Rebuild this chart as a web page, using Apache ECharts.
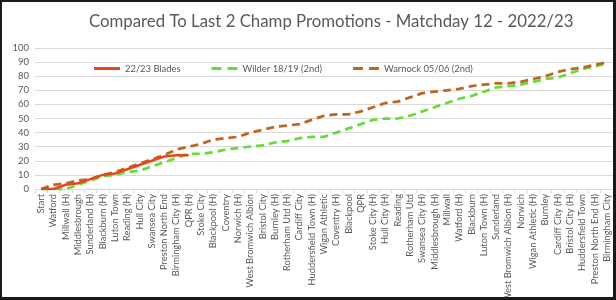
<!DOCTYPE html>
<html><head><meta charset="utf-8">
<script src="https://cdn.jsdelivr.net/npm/echarts@6/dist/echarts.min.js"></script>
<style>
html,body{margin:0;padding:0;background:#fff;}
#c{width:616px;height:300px;position:relative;}
#frame{position:absolute;left:0;top:0;width:616px;height:300px;box-sizing:border-box;border:2px solid #1a1a1a;border-right-width:3px;border-bottom-width:3px;pointer-events:none;}
</style></head>
<body>
<div id="c"></div><div id="frame"></div>
<script>
var categories = ["Start","Watford","Millwall (H)","Middlesbrough","Sunderland (H)","Blackburn (H)","Luton Town","Reading (H)","Hull City","Swansea City","Preston North End","Birmingham City (H)","QPR (H)","Stoke City","Blackpool (H)","Coventry","Norwich (H)","West Bromwich Albion","Bristol City","Burnley (H)","Rotherham Utd (H)","Cardiff City","Huddersfield Town (H)","Wigan Athletic","Coventry (H)","Blackpool","QPR","Stoke City (H)","Hull City (H)","Reading","Rotherham Utd","Swansea City (H)","Middlesbrough (H)","Millwall","Watford (H)","Blackburn","Luton Town (H)","Sunderland","West Bromwich Albion (H)","Norwich","Wigan Athletic (H)","Burnley","Cardiff City (H)","Bristol City (H)","Huddersfield Town","Preston North End (H)","Birmingham City"];
var blades = [0,0,3,4,7,10,11,14,17,20,23,24,24];
var wilder = [0,0,0,3,6,9,10,12,13,16,19,22,25,25,26,28,29,30,31,33,34,36,37,37,40,43,46,49,50,50,52,55,58,61,64,66,69,72,73,74,76,78,79,82,85,87,89];
var warnock = [0,3,4,6,7,10,12,15,18,21,24,28,30,32,35,36,37,40,42,44,45,46,49,52,53,53,55,58,61,62,65,68,69,70,71,73,74,75,75,76,78,80,83,85,86,88,90];
var seriesNames = ["22/23 Blades","Wilder 18/19 (2nd)","Warnock 05/06 (2nd)"];
var yTicks = {min:0,max:100,interval:10};

var font = 'Lato, "Open Sans", sans-serif';
var txt = '#595959';
var solidIcon = 'path://M0,0H26V3H0Z';
var dashIcon = 'path://M0,0H10V3H0Z M16,0H26V3H16Z';
var chart = echarts.init(document.getElementById('c'), null, {renderer:'canvas'});
chart.setOption({
  animation:false,
  backgroundColor:'#fff',
  title:{text:'Compared To Last 2 Champ Promotions - Matchday 12 - 2022/23',left:84,top:8,
    textStyle:{fontFamily:font,fontSize:16.8,fontWeight:'normal',color:txt}},
  legend:{top:59,left:89,itemGap:31,itemWidth:26,itemHeight:3,
    textStyle:{fontFamily:font,fontSize:9.4,color:txt},
    data:[{name:seriesNames[0],icon:solidIcon},{name:seriesNames[1],icon:dashIcon},{name:seriesNames[2],icon:dashIcon}]},
  grid:{left:35,right:3,top:48,bottom:111,containLabel:false,outerBoundsMode:'none'},
  xAxis:{type:'category',data:categories,boundaryGap:true,
    axisLine:{lineStyle:{color:'#d9d9d9'}},
    axisTick:{show:true,length:4,lineStyle:{color:'#d9d9d9'}},
    axisLabel:{rotate:90,interval:0,fontFamily:font,fontSize:9.3,color:txt,margin:5}},
  yAxis:{type:'value',min:yTicks.min,max:yTicks.max,interval:yTicks.interval,
    axisLine:{show:false},axisTick:{show:false},
    splitLine:{lineStyle:{color:'#d9d9d9',width:1}},
    axisLabel:{fontFamily:font,fontSize:9.5,color:txt,margin:6}},
  series:[
    {name:seriesNames[0],type:'line',data:blades,symbol:'none',z:5,
      lineStyle:{color:'#E8461E',width:2.5},itemStyle:{color:'#E8461E'}},
    {name:seriesNames[1],type:'line',data:wilder,symbol:'none',z:3,
      lineStyle:{color:'#62DE36',width:2.75,type:[8,5]},itemStyle:{color:'#62DE36'}},
    {name:seriesNames[2],type:'line',data:warnock,symbol:'none',z:4,
      lineStyle:{color:'#C0651F',width:2.75,type:[8,5]},itemStyle:{color:'#C0651F'}}
  ]
});
</script></body></html>
